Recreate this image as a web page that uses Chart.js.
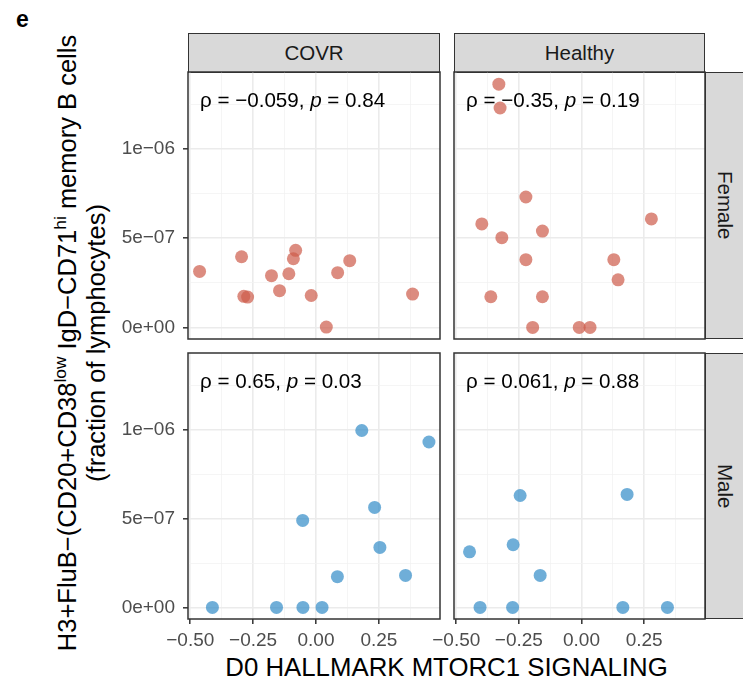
<!DOCTYPE html>
<html>
<head>
<meta charset="utf-8">
<script src="https://cdn.jsdelivr.net/npm/chart.js@4.4.1/dist/chart.umd.min.js"></script>
<style>
  body { margin: 0; background: #fff; }
  #fig { position: relative; width: 743px; height: 681px; overflow: hidden; font-family: "Liberation Sans", Arial, sans-serif; }
  .panel { position: absolute; }
  .strip { position: absolute; box-sizing: border-box; background: #D9D9D9; border: 1.5px solid #333; color: #1A1A1A;
           font-size: 20.5px; display: flex; align-items: center; justify-content: center; }
  .strip.side { writing-mode: vertical-rl; }
  .tag { position: absolute; left: 16px; top: 8px; font-weight: bold; font-size: 23px; line-height: 23px; }
  .ytitle { position: absolute; left: 82px; top: 343px; transform: translate(-50%, -50%) rotate(-90deg);
            white-space: nowrap; text-align: center; font-size: 25.5px; line-height: 29px; color: #000; }
  .ytitle sup { font-size: 0.68em; line-height: 0; vertical-align: 0.55em; }
  .xtitle { position: absolute; left: 446.5px; top: 655px; transform: translateX(-50%); white-space: nowrap;
            font-size: 25.8px; line-height: 25.8px; color: #000; }
</style>
</head>
<body>
<div id="fig">
  <div class="tag">e</div>
  <div class="strip" style="left:188px; top:33px; width:252px; height:40px;">COVR</div>
  <div class="strip" style="left:454px; top:33px; width:251px; height:40px;">Healthy</div>
  <div class="strip side" style="left:705px; top:72px; width:40px; height:267px;">Female</div>
  <div class="strip side" style="left:705px; top:353px; width:40px; height:266px;">Male</div>
  <div class="ytitle">H3+FluB−(CD20+CD38<sup>low</sup> IgD−CD71<sup>hi</sup> memory B cells<br>(fraction of lymphocytes)</div>
  <div class="xtitle">D0 HALLMARK MTORC1 SIGNALING</div>
</div>
<script>
// ----- data (x = D0 MTORC1 score, y = fraction of lymphocytes) -----
const covrFemaleX = [-0.463, -0.296, -0.287, -0.272, -0.177, -0.145, -0.108, -0.090, -0.081, -0.019, 0.041, 0.086, 0.134, 0.384];
const covrFemaleY = [3.14e-7, 3.96e-7, 1.74e-7, 1.70e-7, 2.90e-7, 2.06e-7, 3.01e-7, 3.85e-7, 4.32e-7, 1.79e-7, 0.02e-7, 3.07e-7, 3.74e-7, 1.87e-7];

const healthyFemaleX = [-0.330, -0.325, -0.222, -0.398, -0.156, -0.318, 0.279, -0.222, 0.129, 0.146, -0.362, -0.156, -0.195, -0.009, 0.034];
const healthyFemaleY = [13.64e-7, 12.30e-7, 7.31e-7, 5.80e-7, 5.40e-7, 5.03e-7, 6.08e-7, 3.80e-7, 3.80e-7, 2.67e-7, 1.72e-7, 1.72e-7, 0, 0, 0];

const covrMaleX = [0.182, 0.449, 0.233, -0.053, 0.254, 0.085, 0.356, -0.412, -0.157, -0.052, 0.024];
const covrMaleY = [9.96e-7, 9.31e-7, 5.63e-7, 4.90e-7, 3.38e-7, 1.73e-7, 1.80e-7, 0, 0, 0, 0];

const healthyMaleX = [-0.245, 0.182, -0.273, -0.447, -0.165, -0.405, -0.275, 0.165, 0.343];
const healthyMaleY = [6.30e-7, 6.36e-7, 3.53e-7, 3.13e-7, 1.80e-7, 0, 0, 0, 0];

const corLabels = [["−0.059", "0.84"], ["−0.35", "0.19"], ["0.65", "0.03"], ["0.061", "0.88"]];

// ticks: majors carry a label, minors are blank (minor grid only)
const xTicks  = [-0.5, -0.375, -0.25, -0.125, 0, 0.125, 0.25, 0.375];
const xLabels = ["−0.50", "", "−0.25", "", "0.00", "", "0.25", ""];
const yTicks  = [0, 0.25e-6, 0.5e-6, 0.75e-6, 1e-6, 1.25e-6];
const yLabels = ["0e+00", "", "5e−07", "", "1e−06", ""];

const X_MIN = -0.509, X_MAX = 0.493, Y_MIN = -0.065e-6, Y_MAX = 1.432e-6;
const FONT = '"Liberation Sans", Arial, sans-serif';
const RED = "rgba(205,91,74,0.7)", BLUE = "rgba(50,140,200,0.7)";

// panel border + stat_cor style label
const panelDecor = {
  id: "panelDecor",
  afterDatasetsDraw(chart, args, opts) {
    const { ctx, chartArea: a } = chart;
    ctx.save();
    ctx.strokeStyle = "#333333"; ctx.lineWidth = 1.5;
    ctx.strokeRect(a.left, a.top, a.right - a.left, a.bottom - a.top);
    const parts = [["ρ = " + opts.rho + ", ", false], ["p", true], [" = " + opts.p, false]];
    let x = a.left + 12;
    const y = a.top + 35;
    ctx.fillStyle = "#000"; ctx.textBaseline = "alphabetic";
    parts.forEach(([t, it]) => {
      ctx.font = (it ? "italic " : "") + "20.6px " + FONT;
      ctx.fillText(t, x, y);
      x += ctx.measureText(t).width;
    });
    ctx.restore();
  }
};

function toPoints(xs, ys) { return xs.map((x, i) => ({ x: x, y: ys[i] })); }

function gridOpts(labels) {
  return {
    color: c => labels[c.index] ? "#EBEBEB" : "#F3F3F3",
    lineWidth: c => labels[c.index] ? 1.6 : 0.8,
    tickColor: c => labels[c.index] ? "#333333" : "rgba(0,0,0,0)",
    tickWidth: 1.5, tickLength: 5
  };
}

// box = panel rect on the page; ml / mb = room for left / bottom axis
function makePanel(box, ml, mb, showY, showX, xs, ys, color, cor) {
  const pad = 3;
  const wrap = document.createElement("div");
  wrap.className = "panel";
  wrap.style.left = (box.x - ml) + "px";
  wrap.style.top = (box.y - pad) + "px";
  wrap.style.width = (ml + box.w + pad) + "px";
  wrap.style.height = (pad + box.h + mb) + "px";
  const cv = document.createElement("canvas");
  wrap.appendChild(cv);
  document.getElementById("fig").appendChild(wrap);

  new Chart(cv, {
    type: "scatter",
    data: { datasets: [{ data: toPoints(xs, ys), backgroundColor: color, borderWidth: 0, pointRadius: 6.5, pointHoverRadius: 6.5 }] },
    options: {
      responsive: true, maintainAspectRatio: false, animation: false,
      layout: { autoPadding: false, padding: { top: pad, right: pad, left: 0, bottom: 0 } },
      plugins: { legend: { display: false }, tooltip: { enabled: false }, panelDecor: { rho: cor[0], p: cor[1] } },
      scales: {
        x: {
          type: "linear", min: X_MIN, max: X_MAX,
          afterBuildTicks: s => { s.ticks = xTicks.map(v => ({ value: v })); },
          afterFit: s => { s.height = mb; s.paddingLeft = 0; s.paddingRight = 0; },
          grid: { ...gridOpts(xLabels), drawTicks: showX },
          border: { display: false },
          ticks: { display: showX, autoSkip: false, maxRotation: 0, padding: 5, color: "#4D4D4D",
                   font: { family: FONT, size: 19 }, callback: (v, i) => xLabels[i] }
        },
        y: {
          type: "linear", min: Y_MIN, max: Y_MAX,
          afterBuildTicks: s => { s.ticks = yTicks.map(v => ({ value: v })); },
          afterFit: s => { s.width = ml; s.paddingTop = 0; s.paddingBottom = 0; },
          grid: { ...gridOpts(yLabels), drawTicks: showY },
          border: { display: false },
          ticks: { display: showY, autoSkip: false, padding: 8, color: "#4D4D4D",
                   font: { family: FONT, size: 19 }, callback: (v, i) => yLabels[i] }
        }
      }
    },
    plugins: [panelDecor]
  });
}

const colL = { x: 188, w: 252 }, colR = { x: 454, w: 251 };
const rowT = { y: 72, h: 267 }, rowB = { y: 353, h: 266 };

makePanel({ ...colL, ...rowT }, 100, 3, true, false, covrFemaleX, covrFemaleY, RED, corLabels[0]);
makePanel({ ...colR, ...rowT }, 3, 3, false, false, healthyFemaleX, healthyFemaleY, RED, corLabels[1]);
makePanel({ ...colL, ...rowB }, 100, 40, true, true, covrMaleX, covrMaleY, BLUE, corLabels[2]);
makePanel({ ...colR, ...rowB }, 50, 40, false, true, healthyMaleX, healthyMaleY, BLUE, corLabels[3]);
</script>
</body>
</html>
